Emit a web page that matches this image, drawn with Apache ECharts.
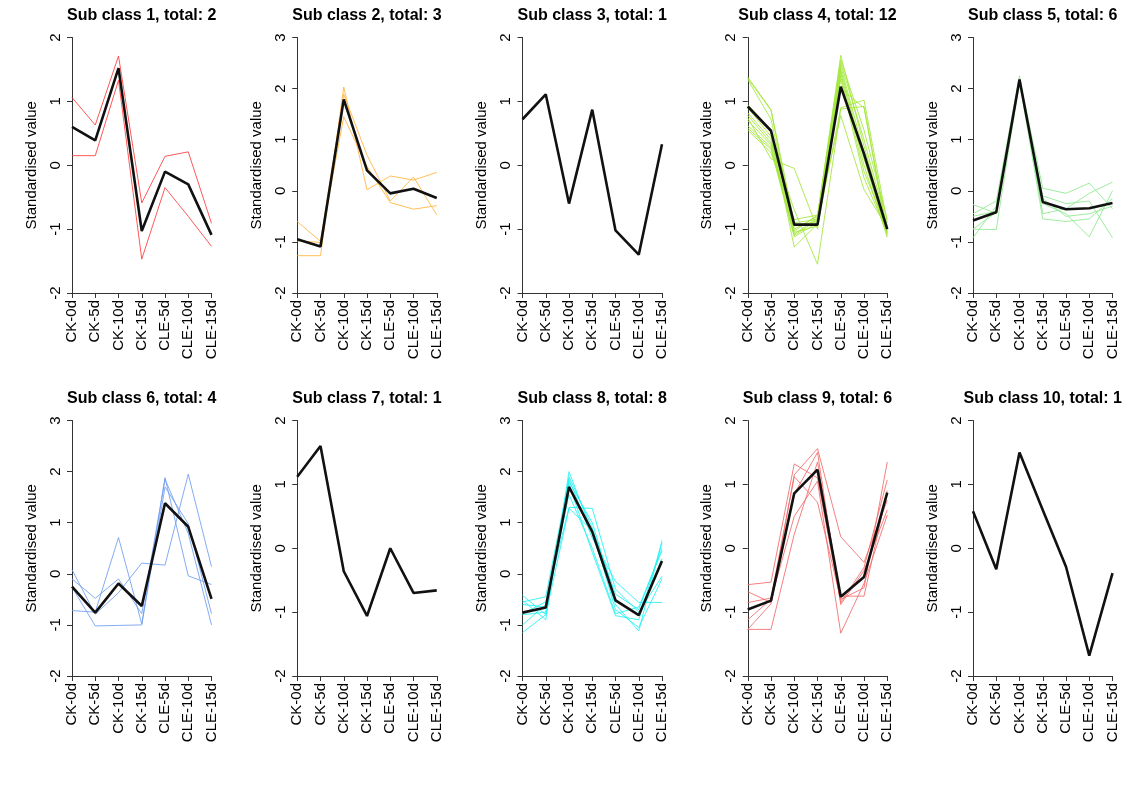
<!DOCTYPE html>
<html>
<head>
<meta charset="utf-8">
<script src="https://cdn.jsdelivr.net/npm/echarts@6/dist/echarts.min.js"></script>
<style>
html,body{margin:0;padding:0;background:#fff;}
#chart{width:1144px;height:798px;}
</style>
</head>
<body>
<div id="chart"></div>
<script>
// ---------- DATA ----------
var categories = ['CK-0d','CK-5d','CK-10d','CK-15d','CLE-5d','CLE-10d','CLE-15d'];
var titles = ['Sub class 1, total: 2','Sub class 2, total: 3','Sub class 3, total: 1','Sub class 4, total: 12','Sub class 5, total: 6',
              'Sub class 6, total: 4','Sub class 7, total: 1','Sub class 8, total: 8','Sub class 9, total: 6','Sub class 10, total: 1'];
var yMins = [-2,-2,-2,-2,-2,-2,-2,-2,-2,-2];
var yMaxs = [2,3,2,2,3,3,2,3,2,2];

var sub1Members = [
  [1.06,0.63,1.71,-0.59,0.14,0.21,-0.91],
  [0.15,0.15,1.33,-1.47,-0.35,-0.80,-1.27]
];
var sub1Mean = [0.60,0.39,1.52,-1.03,-0.10,-0.30,-1.09];

var sub2Members = [
  [-0.60,-0.99,1.89,0.70,-0.20,0.27,-0.47],
  [-1.27,-1.27,2.03,0.02,0.29,0.21,0.36],
  [-0.98,-1.01,1.45,0.48,-0.23,-0.36,-0.29]
];
var sub2Mean = [-0.95,-1.09,1.79,0.40,-0.05,0.04,-0.14];

var sub3Members = [];
var sub3Mean = [0.72,1.11,-0.60,0.87,-1.02,-1.40,0.33];

var sub4Members = [
  [1.38,0.87,-0.90,-0.85,1.60,0.40,-0.95],
  [1.36,0.86,-1.00,-0.80,1.72,0.30,-1.00],
  [1.34,0.72,-0.95,-0.88,1.55,0.20,-1.05],
  [0.95,0.55,-1.03,-0.78,1.65,0.55,-0.85],
  [0.90,0.45,-1.28,-0.92,1.50,0.10,-1.10],
  [0.82,0.40,-1.05,-0.95,0.90,1.02,-0.90],
  [0.78,0.35,-0.70,-1.55,0.88,0.92,-1.02],
  [0.74,0.10,-0.05,-1.00,1.45,0.00,-1.13],
  [0.70,0.32,-1.08,-0.82,0.78,-0.38,-0.98],
  [0.62,0.28,-1.10,-0.85,1.40,-0.10,-1.00],
  [0.58,0.25,-1.12,-0.90,1.35,-0.20,-1.05],
  [0.55,0.20,-0.85,-0.78,1.20,0.90,-1.08]
];
var sub4Mean = [0.92,0.54,-0.93,-0.93,1.23,0.18,-1.00];

var sub5Members = [
  [-0.92,-0.30,2.20,0.05,-0.05,0.15,-0.35],
  [-0.27,-0.44,2.15,-0.10,-0.25,-0.20,-0.92],
  [-0.45,-0.20,2.25,-0.45,-0.35,-0.05,0.17],
  [-0.50,-0.40,2.18,-0.25,-0.45,-0.90,0.00],
  [-0.75,-0.76,2.16,-0.15,-0.50,-0.45,-0.30],
  [-0.75,-0.42,2.14,-0.55,-0.60,-0.55,-0.15]
];
var sub5Mean = [-0.58,-0.42,2.18,-0.22,-0.36,-0.34,-0.24];

var sub6Members = [
  [0.08,-0.79,-0.37,0.21,0.17,1.95,0.14],
  [-0.10,-0.48,-0.10,-0.78,1.85,0.79,-1.00],
  [-0.72,-0.75,0.71,-0.98,1.88,-0.04,-0.21],
  [-0.26,-1.02,-1.01,-1.00,1.70,0.98,-0.78]
];
var sub6Mean = [-0.25,-0.76,-0.19,-0.63,1.38,0.92,-0.49];

var sub7Members = [];
var sub7Mean = [1.12,1.60,-0.36,-1.06,0.00,-0.70,-0.66];

var sub8Members = [
  [-0.42,-0.80,1.90,0.90,-0.40,-0.70,0.50],
  [-0.52,-0.90,2.00,0.80,-0.60,-1.12,0.65],
  [-0.55,-0.45,1.85,0.70,-0.15,-0.56,-0.56],
  [-0.60,-0.65,1.80,1.00,-0.50,-0.80,0.30],
  [-0.78,-0.55,1.30,1.28,-0.30,-0.75,-0.05],
  [-0.80,-0.75,1.75,0.42,-0.82,-0.90,0.60],
  [-1.00,-0.60,1.55,0.50,-0.78,-0.65,0.45],
  [-1.15,-0.80,1.28,0.85,-0.70,-1.05,-0.10]
];
var sub8Mean = [-0.76,-0.66,1.70,0.82,-0.52,-0.81,0.25];

var sub9Members = [
  [-0.57,-0.53,1.32,1.10,-0.85,-0.30,1.07],
  [-0.68,-0.85,1.15,1.56,0.18,-0.22,0.75],
  [-0.85,-0.78,1.12,0.72,-0.80,-0.62,1.35],
  [-1.27,-0.87,0.85,1.50,-0.88,-0.35,0.60],
  [-1.27,-1.27,0.22,1.35,-0.75,-0.75,0.90],
  [-1.12,-0.80,0.50,1.05,-1.33,-0.55,0.52]
];
var sub9Mean = [-0.96,-0.82,0.86,1.23,-0.76,-0.45,0.87];

var sub10Members = [];
var sub10Mean = [0.58,-0.33,1.50,0.60,-0.29,-1.68,-0.39];

var memberColors = ['#ff3b3b','#ffb43c','#000000','#a2e63a','#8fe88f','#6f9cf0','#000000','#22f2f2','#f36a6a','#000000'];

// ---------- BUILD ----------
var members = [sub1Members,sub2Members,sub3Members,sub4Members,sub5Members,sub6Members,sub7Members,sub8Members,sub9Members,sub10Members];
var means = [sub1Mean,sub2Mean,sub3Mean,sub4Mean,sub5Mean,sub6Mean,sub7Mean,sub8Mean,sub9Mean,sub10Mean];

var FONT = 'Liberation Sans, Arial, Helvetica, sans-serif';
var grids=[], xAxes=[], yAxes=[], series=[], titleArr=[];
var plotW = 139.5, plotH = 255.5, colStep = 225.25;
var rowTops = [37.5, 420.5];

for (var i=0;i<10;i++){
  var col = i%5, row = Math.floor(i/5);
  var gLeft = 72 + col*colStep, gTop = rowTops[row];
  grids.push({left:gLeft, top:gTop, width:plotW, height:plotH});
  titleArr.push({
    text: titles[i], left: gLeft+plotW/2, top: gTop-30, textAlign:'center', padding:0,
    textStyle:{fontFamily:FONT, fontWeight:'bold', fontSize:16, color:'#000'}
  });
  xAxes.push({
    type:'category', gridIndex:i, data:categories, boundaryGap:false,
    axisLine:{show:true, onZero:false, lineStyle:{color:'#333', width:1}},
    axisTick:{show:true, length:5, alignWithLabel:true, lineStyle:{color:'#333'}},
    axisLabel:{rotate:90, interval:0, margin:7, fontFamily:FONT, fontSize:15, color:'#000'},
    splitLine:{show:false}
  });
  yAxes.push({
    type:'value', gridIndex:i, min:yMins[i], max:yMaxs[i], interval:1,
    name:'Standardised value', nameLocation:'middle', nameGap:33, nameRotate:90,
    nameTextStyle:{fontFamily:FONT, fontSize:15, color:'#000'},
    axisLine:{show:true, lineStyle:{color:'#333', width:1}},
    axisTick:{show:true, length:5, lineStyle:{color:'#333'}},
    axisLabel:{rotate:90, margin:9, fontFamily:FONT, fontSize:15, color:'#000'},
    splitLine:{show:false}
  });
  for (var k=0;k<members[i].length;k++){
    series.push({
      type:'line', xAxisIndex:i, yAxisIndex:i, data:members[i][k], symbol:'none', silent:true,
      lineStyle:{width:1, color:memberColors[i], opacity:0.85}, z:2
    });
  }
  series.push({
    type:'line', xAxisIndex:i, yAxisIndex:i, data:means[i], symbol:'none', silent:true,
    lineStyle:{width:2.6, color:'#111'}, z:5
  });
}

var chart = echarts.init(document.getElementById('chart'));
chart.setOption({
  animation:false,
  backgroundColor:'#fff',
  title:titleArr,
  grid:grids,
  xAxis:xAxes,
  yAxis:yAxes,
  series:series
});
</script>
</body>
</html>
